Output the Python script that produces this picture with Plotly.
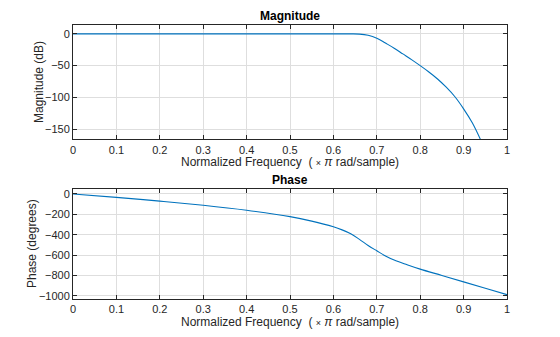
import plotly.graph_objects as go

# ---- data ----
mag_freq = [0, 0.1, 0.2, 0.3, 0.4, 0.5, 0.6, 0.64, 0.66, 0.68, 0.70, 0.72, 0.74, 0.76, 0.78,
            0.80, 0.82, 0.84, 0.86, 0.88, 0.90, 0.92, 0.94]
mag_db = [0, 0, 0, 0, 0, 0, 0, 0, -0.3, -2.2, -6.8, -14.5, -22.5, -31.5, -40.5,
          -50, -60, -71, -84, -99, -118, -140, -168]

ph_freq = [0, 0.1, 0.2, 0.3, 0.4, 0.5, 0.55, 0.6, 0.62, 0.64, 0.66, 0.68, 0.70, 0.72, 0.74,
           0.77, 0.80, 0.85, 0.90, 0.95, 1.0]
ph_deg = [0, -33, -70, -111, -160, -222, -266, -322, -352, -390, -445, -505, -557, -608, -648,
          -694, -737, -799, -862, -925, -987]

x_ticks = [0, 0.1, 0.2, 0.3, 0.4, 0.5, 0.6, 0.7, 0.8, 0.9, 1]
x_tick_text = ["0", "0.1", "0.2", "0.3", "0.4", "0.5", "0.6", "0.7", "0.8", "0.9", "1"]
mag_ticks = [0, -50, -100, -150]
ph_ticks = [0, -200, -400, -600, -800, -1000]

# ---- layout geometry ----
W, H = 560, 337
L, R, T, B = 73, 53, 25, 38
PW, PH = W - L - R, H - T - B

def py(p):
    return 1 - (p - T) / PH

def px(p):
    return (p - L) / PW

top_dom = [py(139.3), 1.0]
bot_dom = [0.0, py(189.3)]

fig = go.Figure()
line_col = "#0072BD"
fig.add_trace(go.Scatter(x=mag_freq, y=mag_db, mode="lines",
                         line=dict(color=line_col, width=1.1, shape="spline", smoothing=1.0),
                         xaxis="x", yaxis="y", showlegend=False, hoverinfo="skip"))
fig.add_trace(go.Scatter(x=ph_freq, y=ph_deg, mode="lines",
                         line=dict(color=line_col, width=1.1, shape="spline", smoothing=1.0),
                         xaxis="x2", yaxis="y2", showlegend=False, hoverinfo="skip"))

font_fam = "Liberation Sans, Arial, sans-serif"
tick_font = dict(family=font_fam, size=11, color="#262626")
axis_common = dict(showline=True, linecolor="#262626", linewidth=1, mirror="ticks",
                   ticks="inside", ticklen=4, tickcolor="#262626", tickwidth=1,
                   showgrid=True, gridcolor="#dedede", gridwidth=1, zeroline=False,
                   tickfont=tick_font)

fig.update_layout(
    width=W, height=H,
    margin=dict(l=L, r=R, t=T, b=B),
    paper_bgcolor="white", plot_bgcolor="white",
    xaxis=dict(domain=[0, 1], anchor="y", range=[0, 1], tickvals=x_ticks, ticktext=x_tick_text, **axis_common),
    yaxis=dict(domain=top_dom, anchor="x", range=[-166, 14], tickvals=mag_ticks, **axis_common),
    xaxis2=dict(domain=[0, 1], anchor="y2", range=[0, 1], tickvals=x_ticks, ticktext=x_tick_text, **axis_common),
    yaxis2=dict(domain=bot_dom, anchor="x2", range=[-1030, 46], tickvals=ph_ticks, **axis_common),
)

xlabel = "Normalized Frequency  ( <span style='font-size:9px'>×</span> <i>π</i> rad/sample)"
lab_font = dict(family=font_fam, size=12, color="#262626")
title_font = dict(family=font_fam, size=12, color="#000000")
ann = [
    dict(text="<b>Magnitude</b>", x=0.5, y=py(15.5), font=title_font),
    dict(text=xlabel, x=0.5, y=py(162.3), font=lab_font),
    dict(text="<b>Phase</b>", x=0.5, y=py(179.5), font=title_font),
    dict(text=xlabel, x=0.5, y=py(321.7), font=lab_font),
    dict(text="Magnitude (dB)", x=px(39), y=py(82), font=lab_font, textangle=-90),
    dict(text="Phase (degrees)", x=px(32), y=py(244), font=lab_font, textangle=-90),
]
for a in ann:
    fig.add_annotation(xref="paper", yref="paper", showarrow=False, xanchor="center", yanchor="middle", **a)

fig.write_html("out.html")
